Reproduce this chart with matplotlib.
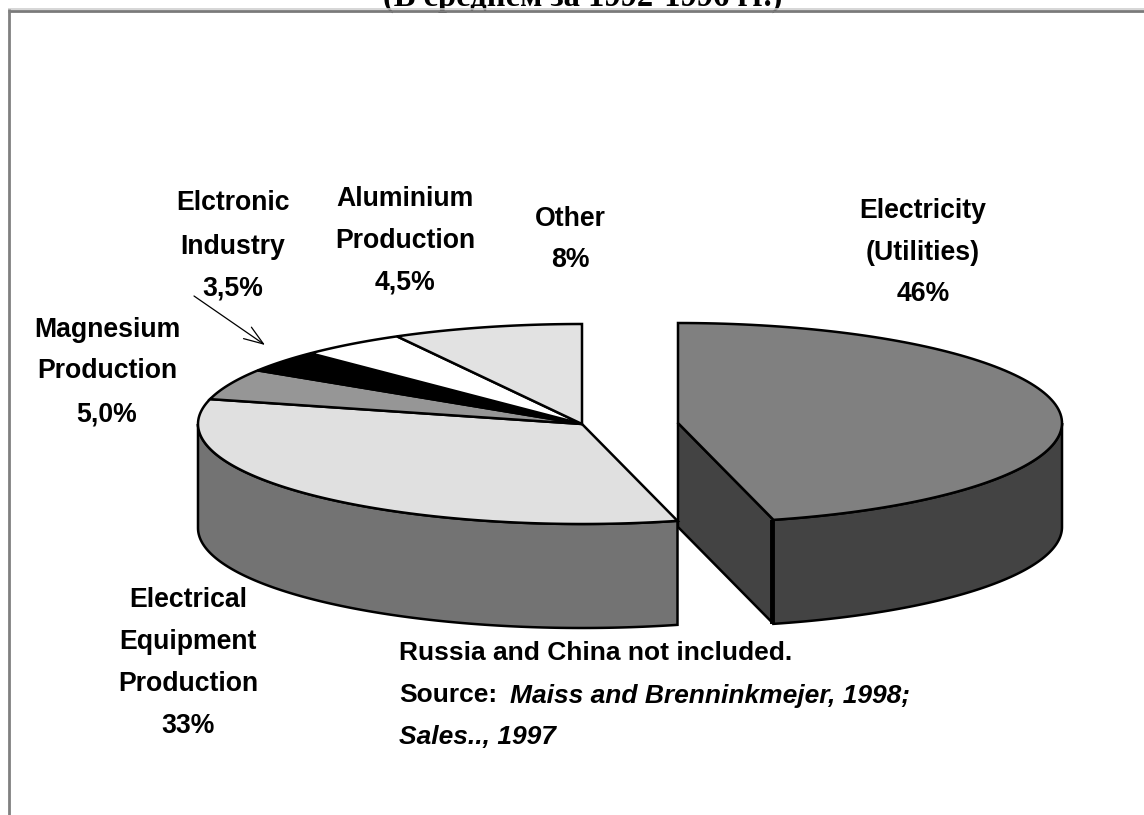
import numpy as np
import matplotlib
matplotlib.use('Agg')
import matplotlib.pyplot as plt
from matplotlib.patches import Polygon

sectors=['Electricity (Utilities)','Electrical Equipment Production','Magnesium Production',
         'Electronic Industry','Aluminium Production','Other']
shares=[46,33,5,3.5,4.5,8]
top_colors=['#808080','#e0e0e0','#969696','#000000','#ffffff','#e2e2e2']
side_colors=['#434343','#737373','#555555','#000000','#aaaaaa','#aaaaaa']
title='(В среднем за 1992-1996 гг.)'

# pie geometry in pixels
rx,ry,depth=384,100,104
main_center=(582,424)
exploded_center=(678,423)

plt.rcParams['font.family']=['Liberation Sans','DejaVu Sans']
fig=plt.figure(figsize=(11.44,8.15),dpi=100)
ax=fig.add_axes([0,0,1,1])
ax.set_xlim(0,1144)
ax.set_ylim(815,0)
ax.axis('off')

def rim(c,a0,a1,dy=0):
    # a in degrees clockwise from 12 o'clock
    a=np.radians(np.linspace(a0,a1,120))
    return np.column_stack([c[0]+rx*np.sin(a),c[1]-ry*np.cos(a)+dy])

# title is cut off by the top of the picture
ax.text(583,5.5,title,ha='center',va='baseline',fontsize=23.5,fontweight='bold',
        family=['Liberation Serif','DejaVu Serif'],zorder=0,clip_on=False)

# frame
ax.plot([8,1144],[8.7,8.7],color='#cfcfcf',lw=1.2,solid_capstyle='butt',zorder=1)
ax.plot([8,1144],[10.5,10.5],color='#7a7a7a',lw=2,solid_capstyle='butt',zorder=1)
ax.plot([8.5,8.5],[9,815],color='#808080',lw=2,solid_capstyle='butt',zorder=1)

edges=np.cumsum([0]+shares)*3.6
for i in range(len(shares)):
    a0,a1=edges[i],edges[i+1]
    c=exploded_center if i==0 else main_center
    # walls, only the front half of the rim shows
    lo,hi=max(a0,90),min(a1,270)
    if lo<hi:
        top=rim(c,lo,hi)
        bot=rim(c,lo,hi,depth)
        ax.add_patch(Polygon(np.vstack([top,bot[::-1]]),fc=side_colors[i],ec='k',lw=1.8,zorder=2))
    if i==0:
        p=rim(c,a1,a1)[0]
        face=[c,p,(p[0],p[1]+depth),(c[0],c[1]+depth)]
        ax.add_patch(Polygon(face,fc=side_colors[i],ec='k',lw=1.8,zorder=2))
        ax.plot([p[0]-1.5,p[0]-1.5],[p[1],p[1]+depth],color='k',lw=2.8,solid_capstyle='butt',zorder=3)
    ax.add_patch(Polygon(np.vstack([[c],rim(c,a0,a1)]),fc=top_colors[i],ec='k',lw=1.8,zorder=4))

labels=[(923,[208,250,291],['Electricity','(Utilities)','46%']),
        (233,[200,244,285],['Elctronic','Industry','3,5%']),
        (405,[196,238,280],['Aluminium','Production','4,5%']),
        (570,[216,257],['Other','8%']),
        (107,[327,368,412],['Magnesium','Production','5,0%']),
        (188,[597,639,681,723],['Electrical','Equipment','Production','33%'])]
for x,ys,lines in labels:
    for y,s in zip(ys,lines):
        ax.text(x,y,s,ha='center',va='center_baseline',fontsize=19.2,fontweight='bold',zorder=6)

ax.text(399,651,'Russia and China not included.',va='center_baseline',fontsize=19,fontweight='bold')
ax.text(399,693,'Source:',va='center_baseline',fontsize=19,fontweight='bold')
ax.text(510,693,'Maiss and Brenninkmejer, 1998;',va='center_baseline',fontsize=19,fontweight='bold',style='italic')
ax.text(399,735,'Sales.., 1997',va='center_baseline',fontsize=19,fontweight='bold',style='italic')

ax.annotate('',xy=(265,345),xytext=(194,296),
            arrowprops=dict(arrowstyle='->,head_length=1.4,head_width=0.5',mutation_scale=10,
                            color='k',lw=0.9,shrinkA=0,shrinkB=0),zorder=5)

fig.savefig('out.png',dpi=100)
